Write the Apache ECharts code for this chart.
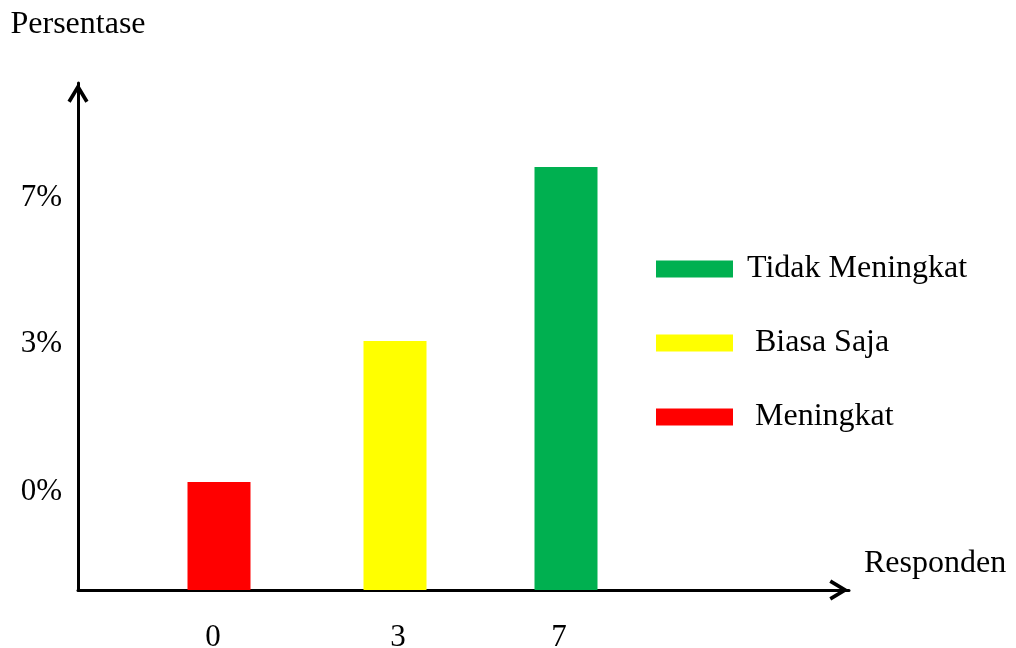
<!DOCTYPE html>
<html>
<head>
<meta charset="utf-8">
<script src="https://cdn.jsdelivr.net/npm/echarts@6/dist/echarts.min.js"></script>
<style>html,body{margin:0;padding:0;background:#fff;}#c{width:1016px;height:648px;}</style>
</head>
<body>
<div id="c"></div>
<script>
// Data (axis units: the picture's own scale)
const seriesNames = ['Tidak Meningkat', ' Biasa Saja', ' Meningkat'];
const seriesColors = ['#00B050', '#FFFF00', '#FF0000'];
const barPositions = [488, 317, 141];      // x position of each series' bar
const barHeights = [423, 249, 108];        // bar heights
const xTickLabels = ['0', '3', '7'];
const xTickPositions = [135, 320, 481];
const yTickLabels = ['0%', '3%', '7%'];
const yTickPositions = [98, 246, 392];

const FONT = '"Liberation Serif", "Times New Roman", serif';
const chevron = 'path://M10,0 L20,16.6 L17,18.4 L10,6.8 L3,18.4 L0,16.6 Z';

const chart = echarts.init(document.getElementById('c'));
chart.setOption({
  backgroundColor: '#fff',
  animation: false,
  grid: { left: 78, right: 167, top: 83, bottom: 58, outerBoundsMode: 'none', containLabel: false },
  legend: {
    orient: 'vertical',
    left: 656, top: 253, padding: 0,
    itemWidth: 77, itemHeight: 17, itemGap: 42,
    icon: 'rect',
    data: seriesNames,
    formatter: function (name) { return '{s|}{t|' + name + '}'; },
    textStyle: {
      fontFamily: FONT, fontSize: 32, color: '#000', lineHeight: 17,
      rich: {
        s: { width: 9, fontSize: 32, fontFamily: FONT },
        t: { fontFamily: FONT, fontSize: 32, color: '#000' }
      }
    }
  },
  xAxis: {
    type: 'value', min: 0, max: 771,
    name: 'Responden', nameLocation: 'end', nameGap: 15,
    nameTextStyle: { fontFamily: FONT, fontSize: 32, color: '#000', verticalAlign: 'bottom', lineHeight: 52 },
    axisLine: { show: true, lineStyle: { color: '#000', width: 3 }, symbol: ['none', chevron], symbolSize: [21, 21], symbolOffset: [0, -10] },
    axisTick: { show: false },
    splitLine: { show: false },
    axisLabel: {
      customValues: xTickPositions,
      formatter: function (v) { const i = xTickPositions.indexOf(v); return i >= 0 ? xTickLabels[i] : ''; },
      fontFamily: FONT, fontSize: 31, color: '#000', margin: 32
    }
  },
  yAxis: {
    type: 'value', min: 0, max: 507,
    name: 'Persentase', nameLocation: 'end', nameGap: 42,
    nameTextStyle: { fontFamily: FONT, fontSize: 32, color: '#000', align: 'center' },
    axisLine: { show: true, lineStyle: { color: '#000', width: 3 }, symbol: ['none', chevron], symbolSize: [21, 21], symbolOffset: [0, -10] },
    axisTick: { show: false },
    splitLine: { show: false },
    axisLabel: {
      customValues: yTickPositions,
      formatter: function (v) { const i = yTickPositions.indexOf(v); return i >= 0 ? yTickLabels[i] : ''; },
      fontFamily: FONT, fontSize: 31, color: '#000', margin: 16
    }
  },
  series: seriesNames.map(function (n, i) {
    return {
      name: n, type: 'bar', barWidth: 63, barGap: '-100%',
      itemStyle: { color: seriesColors[i] },
      data: [[barPositions[i], barHeights[i]]],
      z: 1
    };
  })
});
</script>
</body>
</html>
